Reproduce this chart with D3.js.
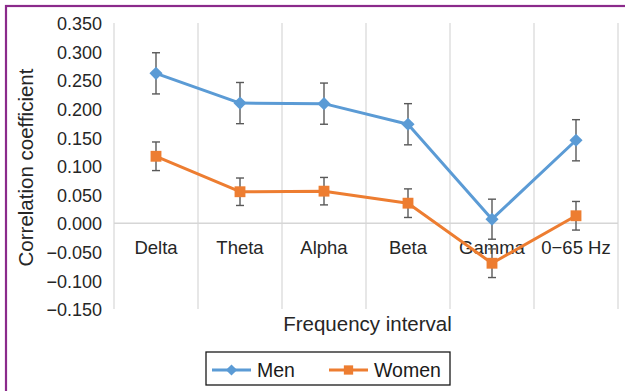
<!DOCTYPE html>
<html>
<head>
<meta charset="utf-8">
<script src="https://cdn.jsdelivr.net/npm/d3@7"></script>
<style>
  html, body { margin: 0; padding: 0; background: #fff; }
  svg { display: block; font-family: "Liberation Sans", Arial, Helvetica, sans-serif; }
</style>
</head>
<body>
<svg id="chart" width="625" height="391"></svg>
<script>
// Frequency bands on the x axis
const categories = ["Delta", "Theta", "Alpha", "Beta", "Gamma", "0\u221265 Hz"];

// Mean correlation coefficients per band
const menValues   = [0.262, 0.210, 0.209, 0.173, 0.007, 0.145];
const womenValues = [0.117, 0.055, 0.056, 0.035, -0.070, 0.013];

// Half-width of the error bars
const menErrors   = [0.036, 0.036, 0.036, 0.036, 0.035, 0.036];
const womenErrors = [0.025, 0.024, 0.024, 0.025, 0.025, 0.025];

// Y axis ticks
const yTicks = [-0.15, -0.10, -0.05, 0, 0.05, 0.10, 0.15, 0.20, 0.25, 0.30, 0.35];

const colors = { Men: "#5b9bd5", Women: "#ed7d31" };
const textColor = "#262626";

const svg = d3.select("#chart");

// Purple frame around the figure
svg.append("rect")
  .attr("x", 6).attr("y", 6)
  .attr("width", 640).attr("height", 400)
  .attr("fill", "none")
  .attr("stroke", "#8b2a8b")
  .attr("stroke-width", 2.2);

const plot = { left: 114, right: 618, top: 23, bottom: 309 };

const x = d3.scaleBand()
  .domain(categories)
  .range([plot.left, plot.right]);

const y = d3.scaleLinear()
  .domain([-0.15, 0.35])
  .range([plot.bottom, plot.top]);

// Vertical gridlines at band boundaries
const boundaries = categories.map(c => x(c)).concat([plot.right]);
svg.append("g").selectAll("line")
  .data(boundaries)
  .join("line")
  .attr("x1", d => d).attr("x2", d => d)
  .attr("y1", plot.top).attr("y2", plot.bottom)
  .attr("stroke", "#dadada")
  .attr("stroke-width", 1.3);

// Zero line
svg.append("line")
  .attr("x1", plot.left).attr("x2", plot.right)
  .attr("y1", y(0)).attr("y2", y(0))
  .attr("stroke", "#d6d6d6")
  .attr("stroke-width", 1.5);

// Y axis labels
const yAxis = d3.axisLeft(y)
  .tickValues(yTicks)
  .tickSize(0)
  .tickPadding(0)
  .tickFormat(d => d3.format(".3f")(d).replace("-", "\u2212"));

const yg = svg.append("g")
  .attr("transform", `translate(${plot.left - 12},1)`)
  .call(yAxis);
yg.select(".domain").remove();
yg.selectAll("text")
  .attr("font-size", 18)
  .attr("fill", textColor)
  .attr("font-family", "Liberation Sans, Arial, sans-serif");

// Category labels just below the zero line
svg.append("g").selectAll("text")
  .data(categories)
  .join("text")
  .attr("x", d => x(d) + x.bandwidth() / 2)
  .attr("y", 254)
  .attr("text-anchor", "middle")
  .attr("font-size", 18.5)
  .attr("fill", textColor)
  .text(d => d);

// Axis titles
svg.append("text")
  .attr("transform", `translate(33,167.5) rotate(-90)`)
  .attr("text-anchor", "middle")
  .attr("font-size", 20.5)
  .attr("fill", textColor)
  .text("Correlation coefficient");

svg.append("text")
  .attr("x", 367.5)
  .attr("y", 331)
  .attr("text-anchor", "middle")
  .attr("font-size", 20.5)
  .attr("fill", textColor)
  .text("Frequency interval");

const cx = c => x(c) + x.bandwidth() / 2;

function drawSeries(name, values, errors) {
  const pts = categories.map((c, i) => ({ c, v: values[i], e: errors[i] }));
  const g = svg.append("g");

  g.append("path")
    .datum(pts)
    .attr("fill", "none")
    .attr("stroke", colors[name])
    .attr("stroke-width", 3)
    .attr("stroke-linejoin", "round")
    .attr("d", d3.line().x(d => cx(d.c)).y(d => y(d.v)));

  // Error bars
  const eb = g.append("g").attr("stroke", "#595959").attr("stroke-width", 1.4);
  pts.forEach(d => {
    const xc = cx(d.c);
    eb.append("line").attr("x1", xc).attr("x2", xc)
      .attr("y1", y(d.v + d.e)).attr("y2", y(d.v - d.e));
    eb.append("line").attr("x1", xc - 4).attr("x2", xc + 4)
      .attr("y1", y(d.v + d.e)).attr("y2", y(d.v + d.e));
    eb.append("line").attr("x1", xc - 4).attr("x2", xc + 4)
      .attr("y1", y(d.v - d.e)).attr("y2", y(d.v - d.e));
  });

  const sym = name === "Men"
    ? d3.symbol().type(d3.symbolDiamond2).size(110)
    : d3.symbol().type(d3.symbolSquare2).size(150);
  g.selectAll("path.marker")
    .data(pts)
    .join("path")
    .attr("class", "marker")
    .attr("transform", d => `translate(${cx(d.c)},${y(d.v)})`)
    .attr("d", sym)
    .attr("fill", colors[name])
    .attr("stroke", "none");
}

drawSeries("Men", menValues, menErrors);
drawSeries("Women", womenValues, womenErrors);

// Legend
const legend = svg.append("g");
legend.append("rect")
  .attr("x", 206).attr("y", 352)
  .attr("width", 244).attr("height", 33)
  .attr("fill", "#fff")
  .attr("stroke", "#1a1a1a")
  .attr("stroke-width", 1.3);

const legendItems = [
  { name: "Men", x0: 212, symbol: d3.symbolDiamond2, size: 80 },
  { name: "Women", x0: 329, symbol: d3.symbolSquare2, size: 110 }
];
legendItems.forEach(it => {
  legend.append("line")
    .attr("x1", it.x0).attr("x2", it.x0 + 39)
    .attr("y1", 370).attr("y2", 370)
    .attr("stroke", colors[it.name])
    .attr("stroke-width", 3);
  legend.append("path")
    .attr("transform", `translate(${it.x0 + 19.5},370)`)
    .attr("d", d3.symbol().type(it.symbol).size(it.size))
    .attr("fill", colors[it.name]);
  legend.append("text")
    .attr("x", it.x0 + 45)
    .attr("y", 377)
    .attr("font-size", 19.5)
    .attr("fill", "#1a1a1a")
    .text(it.name);
});
</script>
</body>
</html>
